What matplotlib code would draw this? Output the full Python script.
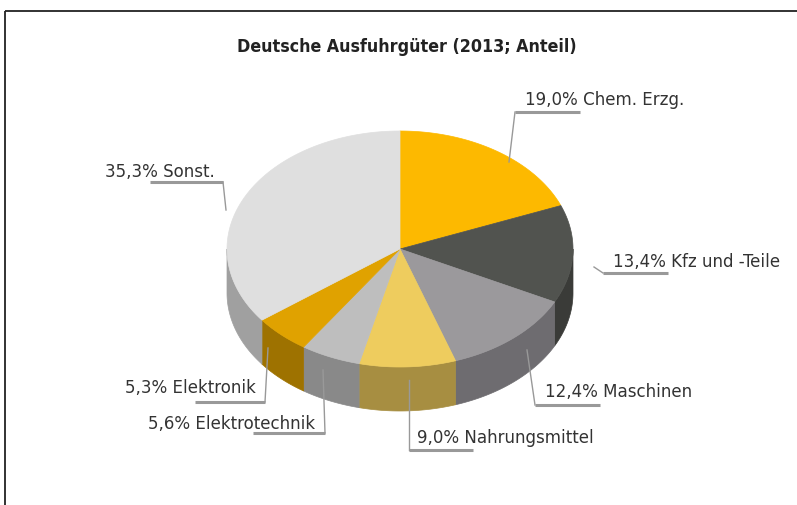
import numpy as np
import matplotlib
matplotlib.use("Agg")
import matplotlib.pyplot as plt
from matplotlib.patches import Polygon

# data
labels = ["Chem. Erzg.", "Kfz und -Teile", "Maschinen", "Nahrungsmittel",
          "Elektrotechnik", "Elektronik", "Sonst."]
shares = [19.0, 13.4, 12.4, 9.0, 5.6, 5.3, 35.3]
top_colors = ["#FDB900", "#51534F", "#9B999C", "#EECC5E", "#BEBEBE", "#E0A200", "#DFDFDF"]
side_colors = ["#FDB900", "#3A3B38", "#6E6C70", "#A78E41", "#898989", "#9E7200", "#A0A0A0"]
title = "Deutsche Ausfuhrgüter (2013; Anteil)"

# layout (pixels)
W, H = 797, 505
cx, cy, rx, ry, depth = 400, 249, 173, 118, 44

# label text anchor (left x, center y), underline (x0, x1, y), leader end (x, y)
label_pos = [(525, 100), (613, 262), (545, 392), (417, 438), (148, 424), (125, 388), (105, 172)]
under = [(515, 580, 112), (603, 668, 273), (535, 600, 405), (409, 473, 450),
         (253, 325, 433), (195, 265, 402), (150, 223, 182)]
lead_from = ["l", "l", "l", "l", "r", "r", "r"]
lead_end = [(509, 162), (594, 267), (527, 350), (409, 380), (323, 370), (268, 348), (226, 210)]

plt.rcParams['font.family'] = ['DejaVu Sans']
fig = plt.figure(figsize=(W / 100, H / 100), dpi=100)
ax = fig.add_axes([0, 0, 1, 1])
ax.set_xlim(0, W)
ax.set_ylim(H, 0)
ax.axis("off")

# frame (left and top only)
ax.plot([5, W], [11, 11], color="#222222", lw=1.3, solid_capstyle="butt")
ax.plot([5, 5], [11, H], color="#222222", lw=1.3, solid_capstyle="butt")


def ell(t, dy=0):
    return np.column_stack([cx + rx * np.cos(t), cy - ry * np.sin(t) + dy])


# parametric angles, clockwise from 12 o'clock
cum = np.concatenate([[0], np.cumsum(shares)]) / 100.0
starts = np.pi / 2 - 2 * np.pi * cum[:-1]
ends = np.pi / 2 - 2 * np.pi * cum[1:]

# side walls (front half only: angle in (-pi, 0))
for a0, a1, col in zip(starts, ends, side_colors):
    lo, hi = max(a1, -np.pi), min(a0, 0.0)
    if hi <= lo:
        continue
    t = np.linspace(hi, lo, 120)
    topc = ell(t)
    botc = ell(t[::-1], depth)
    ax.add_patch(Polygon(np.vstack([topc, botc]), closed=True, fc=col, ec=col, lw=0.5))

# top faces
for a0, a1, col in zip(starts, ends, top_colors):
    t = np.linspace(a0, a1, 200)
    pts = np.vstack([[cx, cy], ell(t)])
    ax.add_patch(Polygon(pts, closed=True, fc=col, ec=col, lw=0.5))

# labels with leader lines
for lab, v, (tx, ty), (ux0, ux1, uy), side, (ex, ey) in zip(
        labels, shares, label_pos, under, lead_from, lead_end):
    txt = ("%.1f%% " % v).replace(".", ",") + lab
    ax.text(tx, ty, txt, fontsize=13.3, color="#333333", ha="left", va="center",
            fontstretch="condensed")
    ax.plot([ux0, ux1], [uy, uy], color="#999999", lw=2.2, solid_capstyle="butt")
    sx = ux0 if side == "l" else ux1
    ax.plot([sx, ex], [uy, ey], color="#999999", lw=1.0)

ax.text(407, 47, title, fontsize=12.8, fontweight="bold", color="#222222",
        ha="center", va="center", fontstretch="condensed")

fig.savefig("out.png", dpi=100)
